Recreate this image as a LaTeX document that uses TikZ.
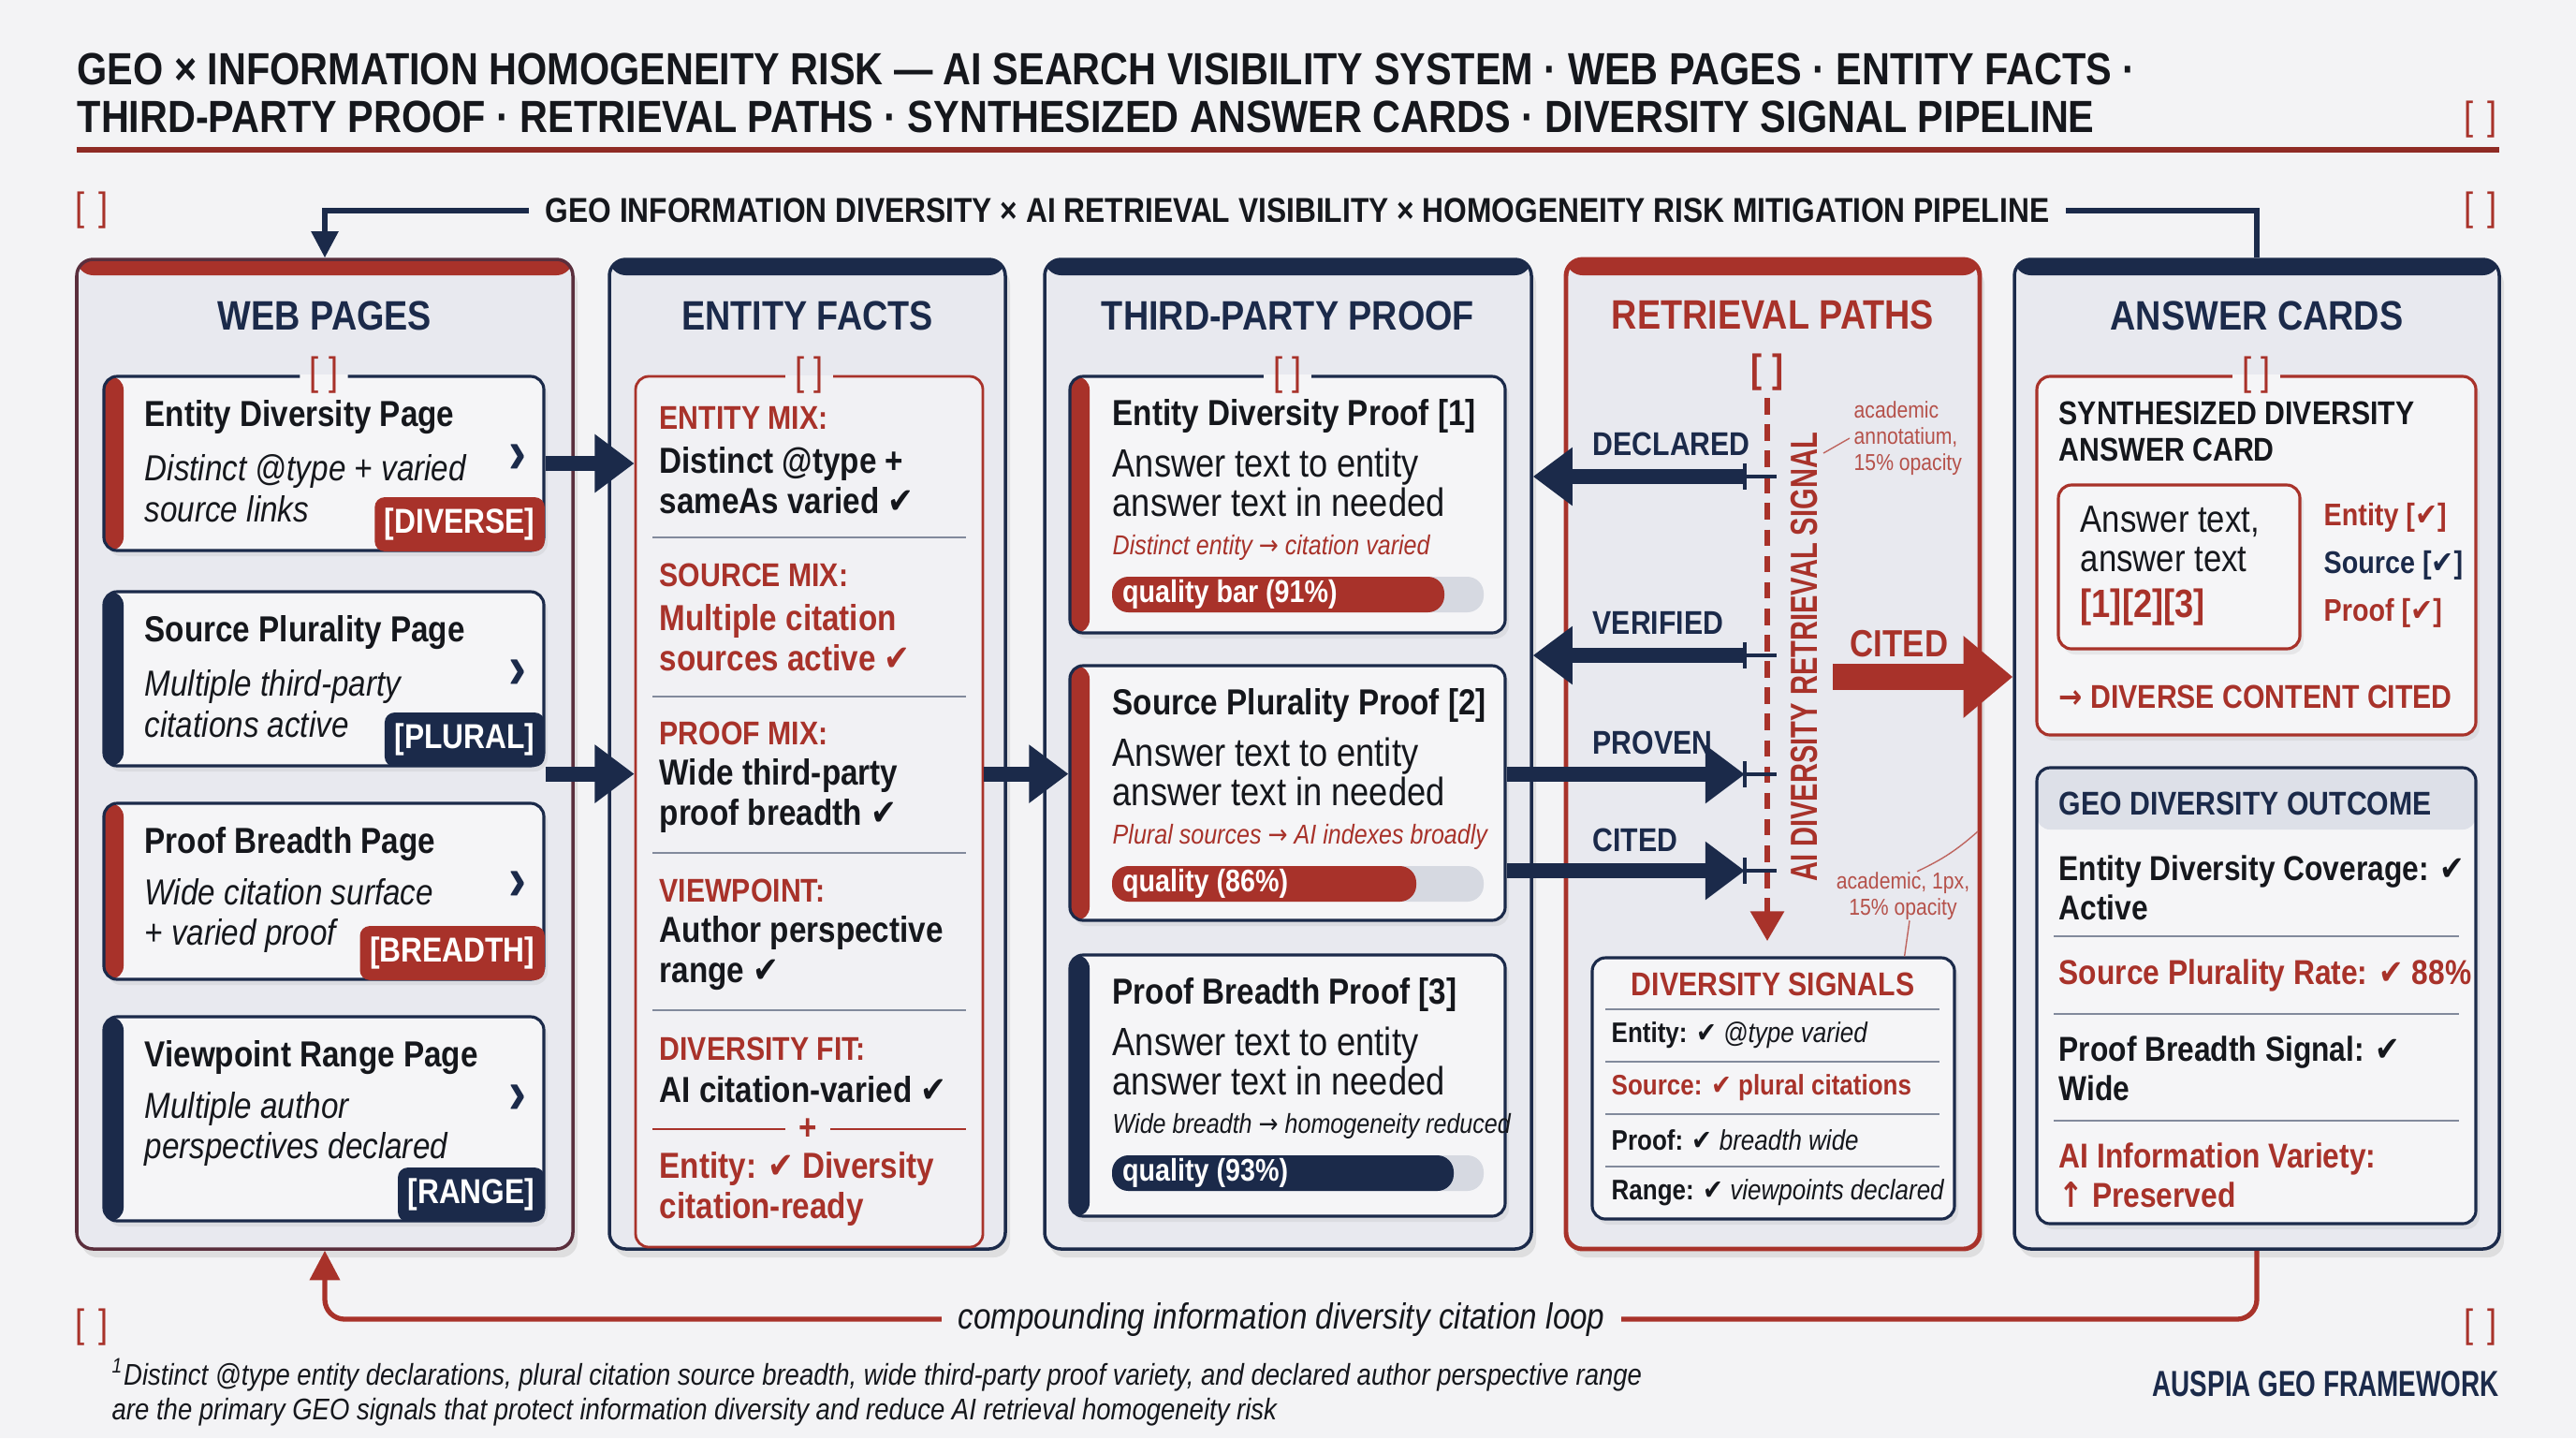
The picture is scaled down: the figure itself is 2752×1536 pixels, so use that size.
\documentclass[tikz,border=0pt]{standalone}
\usepackage{fontspec}
\setmainfont{Liberation Sans}[FakeStretch=0.86]
\newfontfamily\symfont{DejaVu Sans}[FakeStretch=0.86]
\newfontfamily\narrowfont{Liberation Sans}[FakeStretch=0.72]
\usetikzlibrary{arrows.meta, positioning, fit, shadows}
\definecolor{Navy}{HTML}{1B2A4A}
\definecolor{Brick}{HTML}{A8322A}
\definecolor{Ink}{HTML}{15171C}
\definecolor{Paper}{HTML}{F3F3F5}
\definecolor{Panel}{HTML}{E8E9EF}
\definecolor{Card}{HTML}{F5F5F7}
\definecolor{EFfill}{HTML}{F1F1F4}
\definecolor{BarBg}{HTML}{D6D9E1}
\definecolor{Band}{HTML}{DDE0E8}
\newcommand\chk{{\symfont ✔}}
\newcommand\rarr{{\symfont →}}

\begin{document}
\begin{tikzpicture}[x=0.1mm, y=-0.1mm,
    colbox/.style={draw=#1, fill=Panel, line width=1pt, rounded corners=5pt, inner sep=0pt,
      drop shadow={opacity=.18, shadow xshift=.5mm, shadow yshift=-.9mm},
      path picture={\fill[#1] (path picture bounding box.north west)
        rectangle ([yshift=-1.7mm]path picture bounding box.north east);}},
    card/.style={draw=Navy, fill=Card, line width=.9pt, rounded corners=4pt, inner sep=0pt,
      drop shadow={opacity=.12, shadow xshift=.4mm, shadow yshift=-.6mm}},
    accent/.style={path picture={\fill[#1] (path picture bounding box.north west)
        rectangle ([xshift=2.1mm]path picture bounding box.south west);}},
    brk/.style={text=Brick, font=\fontsize{12}{14}\selectfont, inner xsep=3pt, inner ysep=0pt,
      path picture={\fill[Panel] (path picture bounding box.north west)
        rectangle (path picture bounding box.east);
        \fill[#1] (path picture bounding box.west) rectangle (path picture bounding box.south east);}},
    brk/.default=Card,
    mbrk/.style={text=Brick, font=\fontsize{12}{14}\selectfont, inner sep=0pt},
    ttl/.style={anchor=west, text=Ink, font=\fontsize{13.7}{16}\selectfont\bfseries, inner sep=0pt},
    hdr/.style={text=Navy, font=\fontsize{12.5}{15}\selectfont\bfseries, inner sep=0pt},
    ctitle/.style={anchor=west, text=Ink, font=\fontsize{11}{13}\selectfont\bfseries, inner sep=0pt},
    csub/.style={anchor=west, align=left, text=Ink, font=\fontsize{11}{12.5}\selectfont\itshape, inner sep=0pt},
    chev/.style={text=Navy, font=\fontsize{19}{20}\selectfont\bfseries, inner sep=0pt},
    tag/.style={text=white, font=\fontsize{10.5}{12}\selectfont\bfseries, rounded corners=3pt,
      inner xsep=3pt, minimum height=5mm},
    eflab/.style={anchor=west, text=Brick, font=\fontsize{10}{12}\selectfont\bfseries, inner sep=0pt},
    efbody/.style={anchor=west, align=left, font=\fontsize{11}{12.4}\selectfont\bfseries, inner sep=0pt},
    sepln/.style={Navy!55, line width=.5pt},
    tpbody/.style={anchor=west, align=left, text=Ink, font=\fontsize{12}{12}\selectfont, inner sep=0pt},
    tpnote/.style={anchor=west, font=\fontsize{8.3}{10}\selectfont\itshape, inner sep=0pt},
    barbg/.style={fill=BarBg, rounded corners=5pt, inner sep=0pt},
    barfg/.style={rounded corners=5pt, inner sep=0pt},
    bartxt/.style={anchor=west, text=white, font=\fontsize{9.5}{11}\selectfont\bfseries, inner sep=0pt},
    arr/.style={-{Triangle[length=12pt,width=17pt]}, line width=4.5pt, Navy},
    bigarr/.style={-{Triangle[length=15pt,width=24pt]}, line width=8pt, Brick},
    rplab/.style={anchor=west, text=Navy, font=\fontsize{10}{12}\selectfont\bfseries, inner sep=0pt},
    anno/.style={text=Brick!85, font=\fontsize{7}{8}\selectfont, inner sep=0pt},
    annoln/.style={Brick!75, line width=.4pt},
    dsrow/.style={anchor=west, text=Ink, font=\fontsize{8.6}{10}\selectfont, inner sep=0pt},
    anchk/.style={anchor=west, font=\fontsize{9.5}{11}\selectfont\bfseries, inner sep=0pt},
    georow/.style={anchor=west, align=left, text=Ink, font=\fontsize{10.5}{12}\selectfont\bfseries, inner sep=0pt}
  ]
  \useasboundingbox (0,0) rectangle (2752,1536);
  \fill[Paper] (0,0) rectangle (2752,1536);

  % title block
  \node[ttl] (title1) at (82,74) {GEO × INFORMATION HOMOGENEITY RISK — AI SEARCH VISIBILITY SYSTEM · WEB PAGES · ENTITY FACTS ·};
  \node[ttl] (title2) at (82,125) {THIRD-PARTY PROOF · RETRIEVAL PATHS · SYNTHESIZED ANSWER CARDS · DIVERSITY SIGNAL PIPELINE};
  \draw[Brick!85!black, line width=1.5pt] (82,160) -- (2670,160);
  \foreach \n/\x/\y in {1/2650/128, 2/98/225, 3/2650/225, 4/98/1418, 5/2650/1418}
    \node[mbrk] (mb\n) at (\x,\y) {[\,\,]};

  % columns
  \node[colbox=Brick, draw=Brick!45!Navy, fit={(82,277)(612,1334)}] (webcol) {};
  \node[colbox=Navy, fit={(651,277)(1074,1334)}] (efcol) {};
  \node[colbox=Navy, fit={(1116,277)(1636,1334)}] (tpcol) {};
  \node[colbox=Brick, line width=1.4pt, fit={(1673,277)(2115,1334)}] (rpcol) {};
  \node[colbox=Navy, fit={(2152,277)(2670,1334)}] (ancol) {};
  \node[hdr, below=4.6mm of webcol.north] (webhdr) {WEB PAGES};
  \node[hdr, below=4.6mm of efcol.north] (efhdr) {ENTITY FACTS};
  \node[hdr, below=4.6mm of tpcol.north] (tphdr) {THIRD-PARTY PROOF};
  \node[hdr, text=Brick, below=4.6mm of rpcol.north] (rphdr) {RETRIEVAL PATHS};
  \node[hdr, below=4.6mm of ancol.north] (anhdr) {ANSWER CARDS};

  % web pages
  \foreach \n/\ty/\by/\cl/\ttl/\tA/\tB/\tg in {
      1/402/588/Brick/Entity Diversity Page/Distinct @type + varied/source links/DIVERSE,
      2/632/818/Navy/Source Plurality Page/Multiple third-party/citations active/PLURAL,
      3/858/1046/Brick/Proof Breadth Page/Wide citation surface/+ varied proof/BREADTH,
      4/1086/1304/Navy/Viewpoint Range Page/Multiple author/perspectives declared/RANGE}{
    \node[card, accent=\cl, fit={(111,\ty)(581,\by)}] (wp\n) {};
    \node[ctitle] (wpt\n) at (154,\ty+44) {\ttl};
    \node[csub] (wps\n) at (154,\ty+120) {\tA\\\tB};
    \node[chev] (wpc\n) at (553,\ty+88) {›};
    \node[tag, fill=\cl, anchor=south east] (wpg\n) at (wp\n.south east) {[\tg]};
  }
  \node[brk] (wpbrk) at (wp1.north) {[ ]};

  % entity facts
  \node[draw=Brick, fill=EFfill, line width=.8pt, rounded corners=4pt, inner sep=0pt,
        fit={(679,402)(1050,1332)}] (ef) {};
  \node[brk=EFfill] (efbrk) at (ef.north) {[ ]};
  \foreach \n/\y/\lab/\tA/\tB/\cl in {
      1/446/ENTITY MIX:/Distinct @type +/sameAs varied \chk/Ink,
      2/614/SOURCE MIX:/Multiple citation/sources active \chk/Brick,
      3/783/PROOF MIX:/Wide third-party/proof breadth \chk/Ink,
      4/951/VIEWPOINT:/Author perspective/range \chk/Ink}{
    \node[eflab] (efl\n) at (704,\y) {\lab};
    \node[efbody, text=\cl] (efb\n) at (704,\y+67) {\tA\\\tB};
  }
  \node[eflab] (efl5) at (704,1120) {DIVERSITY FIT:};
  \node[efbody, text=Ink] (efb5) at (704,1164) {AI citation-varied \chk};
  \node[efbody, text=Brick] (efb6) at (704,1270) {Entity: \chk{} Diversity\\citation-ready};
  \foreach \y in {574,744,911,1079}
    \draw[sepln] (697,\y) -- (1032,\y);
  \draw[Brick, line width=.6pt] (697,1206) -- (1032,1206);
  \node[fill=EFfill, text=Brick, font=\fontsize{11}{12}\selectfont\bfseries, inner xsep=4pt, inner ysep=0pt] (efplus) at (863,1206) {+};

  % third-party proof
  \foreach \n/\ty/\by/\cl/\ttl/\note/\nc/\pct/\q in {
      1/402/676/Brick/Entity Diversity Proof [1]/Distinct entity \rarr{} citation varied/Brick/quality bar (91\%)/1543,
      2/711/983/Brick/Source Plurality Proof [2]/Plural sources \rarr{} AI indexes broadly/Brick/quality (86\%)/1513,
      3/1020/1299/Navy/Proof Breadth Proof [3]/Wide breadth \rarr{} homogeneity reduced/Ink/quality (93\%)/1553}{
    \node[card, accent=\cl, fit={(1143,\ty)(1608,\by)}] (tp\n) {};
    \node[ctitle] (tpt\n) at (1188,\ty+42) {\ttl};
    \node[tpbody] (tpb\n) at (1188,\ty+113) {Answer text to entity\\answer text in needed};
    \node[tpnote, text=\nc] (tpn\n) at (1188,\ty+183) {\note};
    \node[barbg, fit={(1188,\ty+214)(1585,\ty+252)}] (qb\n) {};
    \node[barfg, fill=\cl, fit={(1188,\ty+214)(\q,\ty+252)}] (qf\n) {};
    \node[bartxt] (qt\n) at ([xshift=1.1mm]qf\n.west) {\pct};
  }
  \node[brk] (tpbrk) at (tp1.north) {[ ]};

  % retrieval paths
  \node[text=Brick, font=\fontsize{12}{14}\selectfont\bfseries, inner sep=0pt] (rpbrk) at (1888,398) {[ ]};
  \coordinate (sigtop) at (1888,425);
  \coordinate (sigbot) at (1888,1005);
  \draw[Brick, line width=1.6pt, dash pattern=on 5pt off 3pt, -{Triangle[length=9pt,width=10pt]}] (sigtop) -- (sigbot);
  \foreach \n/\y in {1/509, 2/700, 3/827, 4/930}{
    \coordinate (tk\n) at (1864,\y);
    \draw[Navy, line width=1.3pt] ([yshift=1.4mm]tk\n) -- ([yshift=-1.4mm]tk\n) (tk\n) -- ([xshift=3.4mm]tk\n);
  }
  \node[rotate=90, text=Brick, font=\narrowfont\fontsize{11.5}{13}\selectfont\bfseries, inner sep=0pt] (sigtxt) at (1928,702) {AI DIVERSITY RETRIEVAL SIGNAL};
  \node[rplab] (rl1) at (1701,474) {DECLARED};
  \node[rplab] (rl2) at (1701,665) {VERIFIED};
  \node[rplab] (rl3) at (1701,793) {PROVEN};
  \node[rplab] (rl4) at (1701,897) {CITED};
  \draw[arr] (tk1) -- (tk1 -| tpcol.east);
  \draw[arr] (tk2) -- (tk2 -| tpcol.east);
  \draw[arr] (tk3 -| tp2.east) -- (tk3);
  \draw[arr] (tk4 -| tp2.east) -- (tk4);

  \node[anno, align=left, anchor=west] (an1) at (1980,468) {academic\\annotatium,\\15\% opacity};
  \coordinate (an1p) at (1948,484);
  \draw[annoln] (an1p) -- ([xshift=-.4mm]an1.west);
  \node[anno, align=center] (an2) at (2033,957) {academic, 1px,\\15\% opacity};
  \coordinate (an2p) at (2113,888);
  \draw[annoln] ([xshift=1.5mm]an2.north) to[bend right=8] (an2p);

  \node[text=Brick, font=\fontsize{11.5}{13}\selectfont\bfseries, inner sep=0pt] (citedlab) at (2029,688) {CITED};
  \coordinate (citeout) at (1958,723);
  \draw[bigarr] (citeout) -- (citeout -| ancol.west);

  \node[card, fit={(1701,1023)(2088,1302)}] (ds) {};
  \draw[annoln] ([xshift=.7mm]an2.south) -- ([xshift=-5.5mm]ds.north east);
  \node[text=Brick, font=\fontsize{10}{12}\selectfont\bfseries, inner sep=0pt] (dst) at (1894,1051) {DIVERSITY SIGNALS};
  \foreach \y in {1078,1134,1190,1246}
    \draw[sepln] (1715,\y) -- (2072,\y);
  \node[dsrow] (ds1) at (1721,1106) {\textbf{Entity:} \chk{} \textit{@type varied}};
  \node[dsrow, text=Brick] (ds2) at (1721,1162) {\textbf{Source: \chk{} plural citations}};
  \node[dsrow] (ds3) at (1721,1218) {\textbf{Proof:} \chk{} \textit{breadth wide}};
  \node[dsrow] (ds4) at (1721,1274) {\textbf{Range:} \chk{} \textit{viewpoints declared}};

  % answer cards
  \node[card, draw=Brick, fit={(2176,402)(2645,785)}] (syn) {};
  \node[brk] (synbrk) at (syn.north) {[ ]};
  \node[anchor=west, align=left, text=Ink, font=\fontsize{10}{11.2}\selectfont\bfseries, inner sep=0pt] (synt) at (2199,461) {SYNTHESIZED DIVERSITY\\ANSWER CARD};
  \node[card, draw=Brick, fit={(2199,518)(2457,693)}] (anbox) {};
  \node[tpbody, font=\fontsize{11.5}{12}\selectfont] (anb) at (2222,576) {Answer text,\\answer text};
  \node[anchor=west, text=Brick, font=\fontsize{12}{14}\selectfont\bfseries, inner sep=0pt] (anref) at (2222,649) {[1][2][3]};
  \node[anchk, text=Brick] (ac1) at (2482,553) {Entity [\chk]};
  \node[anchk, text=Navy] (ac2) at (2482,604) {Source [\chk]};
  \node[anchk, text=Brick] (ac3) at (2482,655) {Proof [\chk]};
  \node[anchor=west, text=Brick, font=\fontsize{10}{12}\selectfont\bfseries, inner sep=0pt] (ancite) at (2199,744) {\rarr{} DIVERSE CONTENT CITED};

  \node[card, fit={(2176,820)(2645,1307)},
        path picture={\fill[Band] (path picture bounding box.north west)
          rectangle ([yshift=-6.6mm]path picture bounding box.north east);}] (geo) {};
  \node[anchor=west, text=Navy, font=\fontsize{10}{12}\selectfont\bfseries, inner sep=0pt] (geot) at (2199,858) {GEO DIVERSITY OUTCOME};
  \node[georow] (g1) at (2199,948) {Entity Diversity Coverage: \chk\\Active};
  \node[georow, text=Brick] (g2) at (2199,1042) {Source Plurality Rate: \chk{} 88\%};
  \node[georow] (g3) at (2199,1141) {Proof Breadth Signal: \chk\\Wide};
  \node[georow, text=Brick] (g4) at (2199,1255) {AI Information Variety:\\{\symfont ↑} Preserved};
  \foreach \y in {1000,1083,1197}
    \draw[sepln] (2194,\y) -- (2627,\y);

  % flow arrows
  \coordinate (w2) at ([yshift=-.7mm]wp2.south east);
  \coordinate (e2) at (ef.east |- w2);
  \draw[arr] (wp1.east) -- (wp1.east -| ef.west);
  \draw[arr] (w2) -- (w2 -| ef.west);
  \draw[arr] (e2) -- (e2 -| tp2.west);

  % pipeline and loop
  \draw[Navy, line width=1.5pt, -{Triangle[length=8pt,width=8pt]}]
    (ancol.north) -- (ancol.north |- 0,225) -- (webcol.north |- 0,225) -- (webcol.north);
  \node[fill=Paper, text=Ink, font=\fontsize{10.5}{12}\selectfont\bfseries, inner xsep=5pt] (pipetxt) at (1386,225)
    {GEO INFORMATION DIVERSITY × AI RETRIEVAL VISIBILITY × HOMOGENEITY RISK MITIGATION PIPELINE};
  \draw[Brick, line width=1.5pt, rounded corners=6pt, -{Triangle[length=9pt,width=9pt]}]
    (ancol.south) -- (ancol.south |- 0,1409) -- (webcol.south |- 0,1409) -- (webcol.south);
  \node[fill=Paper, text=Ink, font=\fontsize{11}{13}\selectfont\itshape, inner xsep=5pt] (looptxt) at (1369,1409)
    {compounding information diversity citation loop};

  % footer
  \node[anchor=west, align=left, text=Ink, font=\fontsize{9.1}{10.5}\selectfont\itshape, inner sep=0pt] (foot) at (119,1487)
    {\textsuperscript{1}Distinct @type entity declarations, plural citation source breadth, wide third-party proof variety, and declared author perspective range\\
     are the primary GEO signals that protect information diversity and reduce AI retrieval homogeneity risk};
  \node[anchor=east, text=Navy, font=\narrowfont\fontsize{11}{13}\selectfont\bfseries, inner sep=0pt] (brand) at (2670,1478) {AUSPIA GEO FRAMEWORK};
\end{tikzpicture}
\end{document}
